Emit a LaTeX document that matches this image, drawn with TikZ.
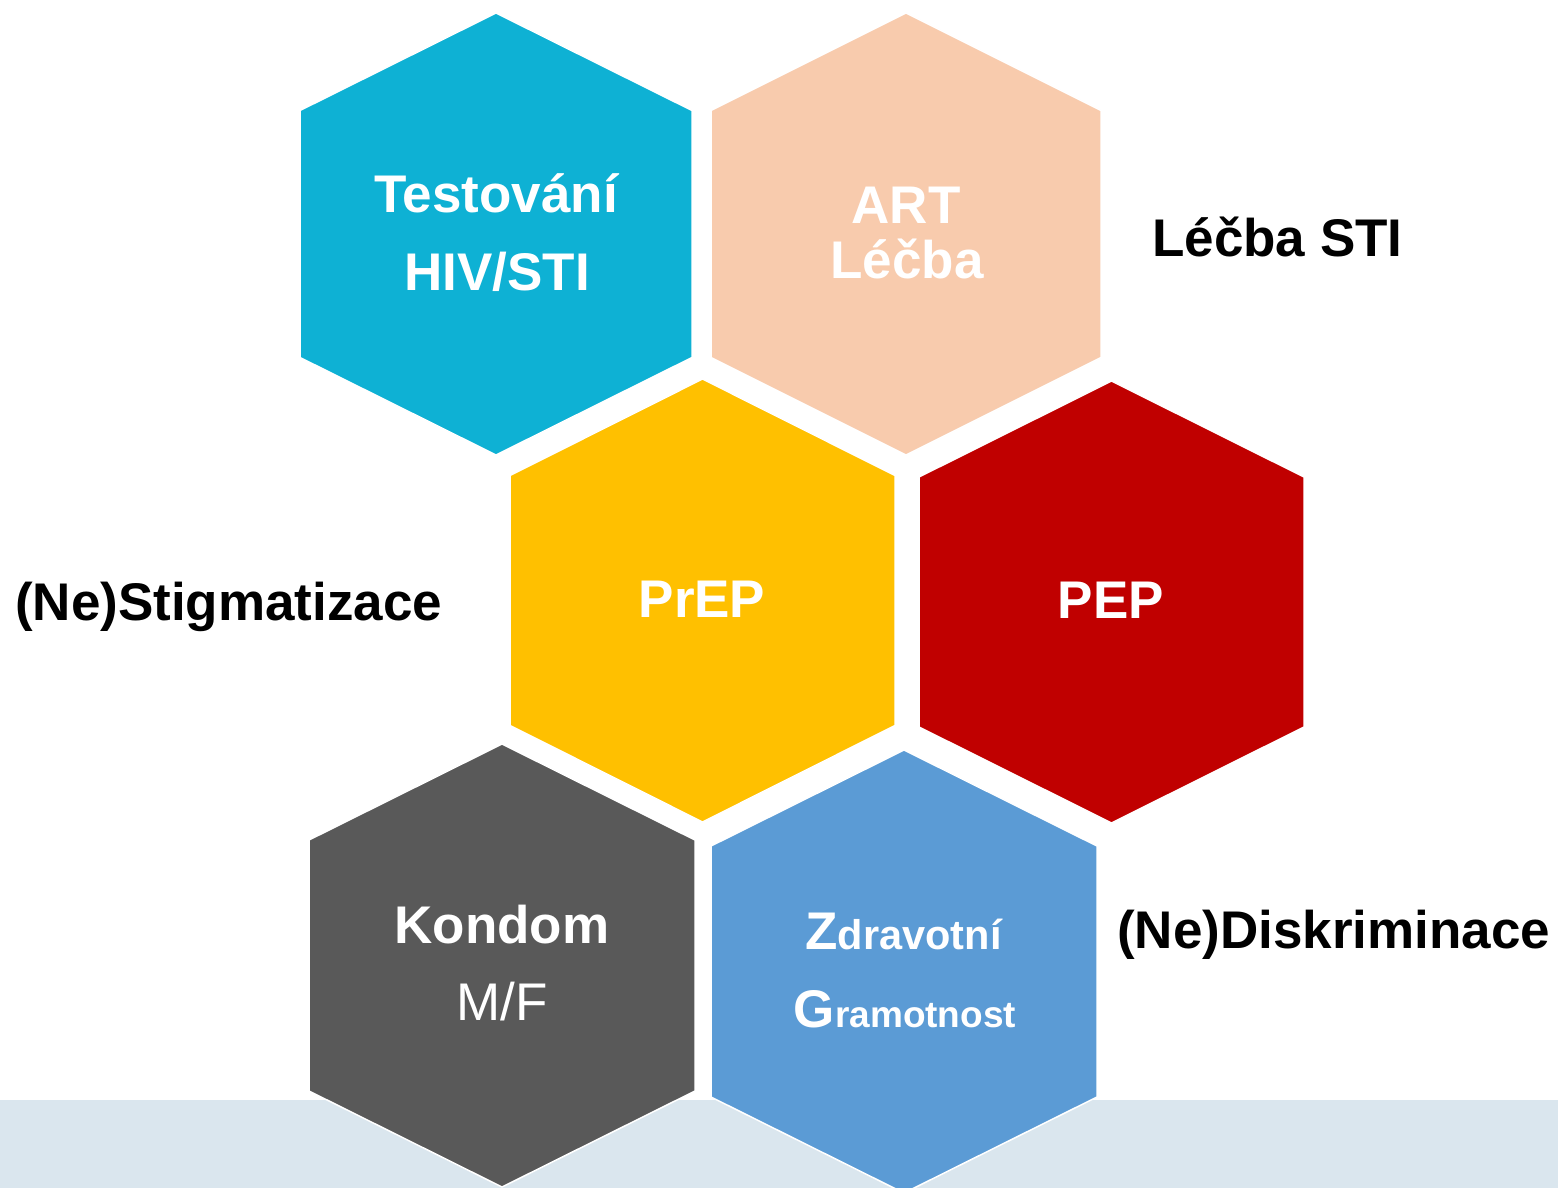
\documentclass[tikz,border=0pt]{standalone}
\usepackage{fontspec}
\setmainfont{Liberation Sans}
\definecolor{hexcyan}{HTML}{0EB1D4}
\definecolor{hexpeach}{HTML}{F8CBAD}
\definecolor{hexgold}{HTML}{FFC000}
\definecolor{hexred}{HTML}{C00000}
\definecolor{hexgrey}{HTML}{595959}
\definecolor{hexblue}{HTML}{5B9BD5}
\definecolor{bandcol}{HTML}{DAE6EE}
\tikzset{
  hexshape/.style={draw=white,line width=1.5pt,line join=miter},
  intext/.style={text=white,font=\bfseries\fontsize{53}{60}\selectfont,inner sep=0pt,anchor=base},
  outtext/.style={text=black,font=\bfseries\fontsize{53}{60}\selectfont,inner sep=0pt,anchor=base west},
}
% #1 cx, #2 cy, #3 half width, #4 half height (tip), #5 half side, #6 colour
\newcommand\drawhex[6]{%
  \path[hexshape,fill=#6] ({#1},{#2-#4}) -- ({#1+#3},{#2-#5}) -- ({#1+#3},{#2+#5})
    -- ({#1},{#2+#4}) -- ({#1-#3},{#2+#5}) -- ({#1-#3},{#2-#5}) -- cycle;}
\begin{document}
\begin{tikzpicture}[x=1pt,y=-1pt]
\useasboundingbox (0,0) rectangle (1558,1188);
\clip (0,0) rectangle (1558,1188);
\fill[bandcol] (0,1100) rectangle (1558,1188);
\drawhex{496}{234}{196}{221}{123.5}{hexcyan}
\drawhex{906}{234}{195}{221}{123.5}{hexpeach}
\drawhex{702.5}{600.5}{192.5}{221.5}{125}{hexgold}
\drawhex{1111.5}{602}{192.5}{221}{125}{hexred}
\drawhex{502}{965.5}{193}{221.5}{125.5}{hexgrey}
\drawhex{904}{971.5}{193}{221.5}{125.5}{hexblue}
% texts in hexagons
\node[intext] (t1a) at (496,212) {Testování};
\node[intext] (t1b) at (497,290) {HIV/STI};
\node[intext] (t2a) at (906,223) {ART};
\node[intext] (t2b) at (907,278) {Léčba};
\node[intext] (t3) at (702,617) {PrEP};
\node[intext] (t4) at (1111,618) {PEP};
\node[intext] (t5a) at (502,943) {Kondom};
\node[intext,font=\fontsize{53}{60}\selectfont] (t5b) at (502,1020) {M/F};
\node[intext] (t6a) at (903.5,949) {Z{\fontsize{41.5}{47}\selectfont dravotní}};
\node[intext] (t6b) at (905,1027) {G{\fontsize{37}{44}\selectfont ramotnost}};
% labels outside
\node[outtext] (lsti) at (1152,256) {Léčba STI};
\node[outtext] (lstig) at (15,620) {(Ne)Stigmatizace};
\node[outtext] (ldisk) at (1117,948) {(Ne)Diskriminace};
\end{tikzpicture}
\end{document}
